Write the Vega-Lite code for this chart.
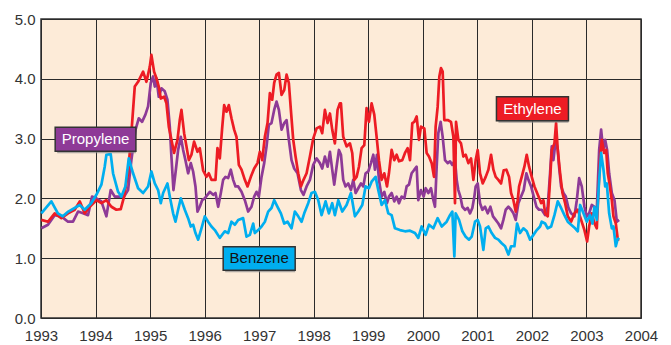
{
  "$schema": "https://vega.github.io/schema/vega-lite/v6.json",
  "width": 600,
  "height": 299,
  "autosize": "none",
  "padding": {"left": 41, "top": 19, "right": 30, "bottom": 27},
  "background": "#ffffff",
  "config": {
    "view": {"fill": "#FDEBD8", "stroke": "#333333", "strokeWidth": 1.5},
    "font": "Liberation Sans",
    "axis": {"domain": false, "ticks": false, "grid": true, "gridColor": "#2a2a2a", "gridWidth": 1, "gridOpacity": 1, "labelFont": "Liberation Sans", "labelFontSize": 15, "labelColor": "#333333", "labelFlush": false, "labelOverlap": false, "title": null}
  },
  "datasets": {
    "benzene": [
      {"t":1993.006,"v":1.75},{"t":1993.19,"v":1.95},{"t":1993.31,"v":1.75},{"t":1993.40,"v":1.70},{"t":1993.50,"v":1.78},{"t":1993.71,"v":1.89},{"t":1993.80,"v":1.81},{"t":1993.92,"v":1.92},{"t":1994.015,"v":2.06},{"t":1994.107,"v":2.23},{"t":1994.168,"v":2.53},{"t":1994.199,"v":2.73},{"t":1994.278,"v":2.74},{"t":1994.321,"v":2.42},{"t":1994.413,"v":2.11},{"t":1994.474,"v":2.03},{"t":1994.547,"v":2.20},{"t":1994.609,"v":2.67},{"t":1994.688,"v":2.42},{"t":1994.780,"v":2.17},{"t":1994.872,"v":2.09},
      {"t":1994.963,"v":2.20},{"t":1995.024,"v":2.45},{"t":1995.086,"v":2.25},{"t":1995.147,"v":2.14},{"t":1995.196,"v":1.92},{"t":1995.239,"v":2.09},{"t":1995.318,"v":2.25},{"t":1995.361,"v":2.03},{"t":1995.422,"v":1.75},{"t":1995.465,"v":1.61},{"t":1995.514,"v":1.81},{"t":1995.563,"v":2.00},{"t":1995.636,"v":1.81},{"t":1995.697,"v":1.67},{"t":1995.746,"v":1.53},{"t":1995.789,"v":1.56},{"t":1995.832,"v":1.42},{"t":1995.881,"v":1.31},{"t":1995.942,"v":1.50},{"t":1996.003,"v":1.70},{"t":1996.064,"v":1.61},{"t":1996.125,"v":1.53},{"t":1996.187,"v":1.47},{"t":1996.278,"v":1.34},{"t":1996.370,"v":1.45},{"t":1996.431,"v":1.42},{"t":1996.492,"v":1.61},{"t":1996.554,"v":1.56},{"t":1996.615,"v":1.64},
      {"t":1996.706,"v":1.67},{"t":1996.768,"v":1.36},{"t":1996.829,"v":1.39},{"t":1996.890,"v":1.58},{"t":1996.920,"v":1.42},{"t":1996.982,"v":1.47},{"t":1997.043,"v":1.53},{"t":1997.104,"v":1.61},{"t":1997.165,"v":1.78},{"t":1997.226,"v":1.84},{"t":1997.275,"v":1.97},{"t":1997.336,"v":1.86},{"t":1997.398,"v":1.75},{"t":1997.459,"v":1.58},{"t":1997.520,"v":1.61},{"t":1997.593,"v":1.50},{"t":1997.654,"v":1.78},{"t":1997.716,"v":1.70},{"t":1997.777,"v":1.61},{"t":1997.826,"v":1.75},{"t":1997.899,"v":1.92},{"t":1997.960,"v":2.09},{"t":1998.021,"v":2.11},{"t":1998.083,"v":1.97},{"t":1998.144,"v":1.72},{"t":1998.217,"v":1.95},{"t":1998.278,"v":1.75},{"t":1998.339,"v":1.92},{"t":1998.388,"v":1.72},{"t":1998.450,"v":1.97},{"t":1998.523,"v":1.78},
      {"t":1998.602,"v":1.89},{"t":1998.682,"v":2.09},{"t":1998.755,"v":1.70},{"t":1998.817,"v":1.78},{"t":1998.890,"v":1.89},{"t":1998.951,"v":2.20},{"t":1999.012,"v":2.17},{"t":1999.061,"v":2.28},{"t":1999.134,"v":2.36},{"t":1999.183,"v":2.14},{"t":1999.245,"v":1.89},{"t":1999.306,"v":1.97},{"t":1999.367,"v":1.75},{"t":1999.428,"v":1.72},{"t":1999.489,"v":1.50},{"t":1999.581,"v":1.47},{"t":1999.673,"v":1.45},{"t":1999.765,"v":1.46},{"t":1999.856,"v":1.42},{"t":1999.917,"v":1.34},{"t":1999.979,"v":1.53},{"t":2000.052,"v":1.39},{"t":2000.113,"v":1.56},{"t":2000.193,"v":1.50},{"t":2000.272,"v":1.67},
      {"t":2000.346,"v":1.53},{"t":2000.437,"v":1.61},{"t":2000.498,"v":1.72},{"t":2000.541,"v":1.78},{"t":2000.578,"v":1.03},{"t":2000.602,"v":1.75},{"t":2000.664,"v":1.64},{"t":2000.725,"v":1.45},{"t":2000.786,"v":1.36},{"t":2000.847,"v":1.31},{"t":2000.896,"v":1.36},{"t":2000.957,"v":1.61},{"t":2001.006,"v":1.64},{"t":2001.049,"v":1.53},{"t":2001.110,"v":1.14},{"t":2001.153,"v":1.50},{"t":2001.202,"v":1.53},{"t":2001.263,"v":1.42},{"t":2001.324,"v":1.34},{"t":2001.385,"v":1.31},{"t":2001.446,"v":1.25},{"t":2001.508,"v":1.20},{"t":2001.569,"v":1.06},{"t":2001.618,"v":1.20},{"t":2001.679,"v":1.20},{"t":2001.728,"v":1.58},{"t":2001.783,"v":1.42},{"t":2001.844,"v":1.50},{"t":2001.905,"v":1.45},{"t":2001.966,"v":1.31},{"t":2002.028,"v":1.39},{"t":2002.089,"v":1.47},{"t":2002.150,"v":1.53},
      {"t":2002.180,"v":1.61},{"t":2002.242,"v":1.58},{"t":2002.290,"v":1.50},{"t":2002.352,"v":1.53},{"t":2002.413,"v":1.72},{"t":2002.474,"v":1.95},{"t":2002.535,"v":1.84},{"t":2002.596,"v":1.72},{"t":2002.657,"v":1.61},{"t":2002.719,"v":1.56},{"t":2002.792,"v":1.50},{"t":2002.841,"v":1.45},{"t":2002.884,"v":1.89},{"t":2002.945,"v":1.75},{"t":2003.006,"v":1.61},{"t":2003.067,"v":1.72},{"t":2003.110,"v":1.58},{"t":2003.147,"v":1.86},{"t":2003.190,"v":1.64},{"t":2003.233,"v":2.31},{"t":2003.269,"v":2.76},{"t":2003.312,"v":2.48},{"t":2003.343,"v":2.20},{"t":2003.373,"v":2.25},{"t":2003.416,"v":1.75},{"t":2003.465,"v":1.50},{"t":2003.495,"v":1.53},{"t":2003.538,"v":1.20},{"t":2003.569,"v":1.31},{"t":2003.599,"v":1.34}
    ],
    "ethylene": [
      {"t":1993.006,"v":1.64},{"t":1993.128,"v":1.61},{"t":1993.251,"v":1.75},{"t":1993.373,"v":1.67},{"t":1993.495,"v":1.75},{"t":1993.618,"v":1.81},{"t":1993.710,"v":1.95},{"t":1993.801,"v":1.75},{"t":1993.893,"v":1.86},{"t":1994.015,"v":1.97},{"t":1994.107,"v":1.92},{"t":1994.199,"v":1.97},{"t":1994.291,"v":1.86},{"t":1994.382,"v":1.81},{"t":1994.462,"v":1.82},{"t":1994.523,"v":2.03},{"t":1994.596,"v":2.42},{"t":1994.657,"v":3.09},{"t":1994.719,"v":3.87},{"t":1994.780,"v":3.95},
      {"t":1994.872,"v":4.12},{"t":1994.933,"v":3.95},{"t":1994.994,"v":4.20},{"t":1995.024,"v":4.40},{"t":1995.073,"v":4.12},{"t":1995.116,"v":4.01},{"t":1995.159,"v":3.87},{"t":1995.196,"v":3.67},{"t":1995.257,"v":3.70},{"t":1995.300,"v":3.59},{"t":1995.343,"v":3.20},{"t":1995.391,"v":2.98},{"t":1995.440,"v":2.76},{"t":1995.502,"v":2.98},{"t":1995.544,"v":3.31},{"t":1995.575,"v":3.48},{"t":1995.624,"v":3.09},{"t":1995.667,"v":2.87},{"t":1995.710,"v":2.64},{"t":1995.758,"v":2.73},{"t":1995.807,"v":2.95},{"t":1995.869,"v":2.78},{"t":1995.911,"v":2.84},{"t":1995.972,"v":2.47},{"t":1996.034,"v":2.36},{"t":1996.076,"v":2.42},{"t":1996.125,"v":2.31},{"t":1996.199,"v":2.31},{"t":1996.235,"v":2.84},{"t":1996.278,"v":2.67},{"t":1996.321,"v":3.17},{"t":1996.358,"v":3.56},{"t":1996.401,"v":3.45},{"t":1996.443,"v":3.56},{"t":1996.492,"v":3.34},{"t":1996.541,"v":3.15},{"t":1996.584,"v":3.03},{"t":1996.627,"v":2.56},{"t":1996.676,"v":2.48},
      {"t":1996.737,"v":2.31},{"t":1996.786,"v":2.20},{"t":1996.847,"v":2.36},{"t":1996.908,"v":2.50},{"t":1996.969,"v":2.59},{"t":1997.012,"v":2.78},{"t":1997.055,"v":2.64},{"t":1997.104,"v":3.03},{"t":1997.153,"v":3.26},{"t":1997.196,"v":3.76},{"t":1997.239,"v":3.65},{"t":1997.275,"v":3.93},{"t":1997.318,"v":4.07},{"t":1997.361,"v":4.10},{"t":1997.410,"v":3.73},{"t":1997.459,"v":3.81},{"t":1997.502,"v":4.07},{"t":1997.544,"v":3.93},{"t":1997.581,"v":3.48},{"t":1997.624,"v":2.98},{"t":1997.667,"v":2.70},{"t":1997.716,"v":2.42},{"t":1997.765,"v":2.20},{"t":1997.813,"v":2.31},{"t":1997.869,"v":2.42},{"t":1997.930,"v":2.70},{"t":1997.991,"v":3.00},{"t":1998.052,"v":3.17},{"t":1998.113,"v":3.20},{"t":1998.156,"v":3.09},{"t":1998.205,"v":3.48},{"t":1998.254,"v":3.26},{"t":1998.297,"v":3.42},{"t":1998.339,"v":3.15},{"t":1998.388,"v":2.92},{"t":1998.437,"v":3.48},{"t":1998.480,"v":3.59},
      {"t":1998.499,"v":3.59},{"t":1998.541,"v":3.03},{"t":1998.602,"v":2.87},{"t":1998.664,"v":2.92},{"t":1998.706,"v":2.76},{"t":1998.743,"v":2.31},{"t":1998.786,"v":2.36},{"t":1998.829,"v":2.53},{"t":1998.878,"v":2.84},{"t":1998.927,"v":2.89},{"t":1998.969,"v":3.51},{"t":1999.012,"v":3.28},{"t":1999.061,"v":3.59},{"t":1999.110,"v":3.40},{"t":1999.153,"v":3.03},{"t":1999.196,"v":2.64},{"t":1999.245,"v":2.31},{"t":1999.294,"v":2.42},{"t":1999.343,"v":2.20},{"t":1999.379,"v":2.42},{"t":1999.428,"v":2.81},{"t":1999.477,"v":2.64},{"t":1999.520,"v":2.73},{"t":1999.563,"v":2.62},{"t":1999.624,"v":2.64},{"t":1999.673,"v":2.76},{"t":1999.722,"v":2.84},{"t":1999.765,"v":2.64},{"t":1999.807,"v":3.26},{"t":1999.844,"v":3.28},{"t":1999.887,"v":3.37},{"t":1999.930,"v":2.98},{"t":1999.966,"v":3.20},{"t":2000.028,"v":3.17},{"t":2000.070,"v":2.76},{"t":2000.113,"v":2.70},{"t":2000.162,"v":2.59},{"t":2000.205,"v":2.36},{"t":2000.235,"v":3.20},{"t":2000.272,"v":3.53},{"t":2000.303,"v":4.04},{"t":2000.333,"v":4.18},{"t":2000.364,"v":4.12},
      {"t":2000.394,"v":3.31},{"t":2000.456,"v":3.31},{"t":2000.517,"v":3.28},{"t":2000.560,"v":3.03},{"t":2000.590,"v":1.92},{"t":2000.609,"v":3.28},{"t":2000.651,"v":2.98},{"t":2000.700,"v":2.92},{"t":2000.743,"v":2.70},{"t":2000.786,"v":2.73},{"t":2000.835,"v":2.59},{"t":2000.884,"v":2.67},{"t":2000.927,"v":2.31},{"t":2000.969,"v":2.64},{"t":2001.006,"v":2.81},{"t":2001.049,"v":2.42},{"t":2001.098,"v":2.25},{"t":2001.153,"v":2.36},{"t":2001.202,"v":2.48},{"t":2001.251,"v":2.73},{"t":2001.294,"v":2.48},{"t":2001.336,"v":2.36},{"t":2001.385,"v":2.31},{"t":2001.434,"v":2.25},{"t":2001.483,"v":2.47},{"t":2001.532,"v":2.48},{"t":2001.581,"v":2.36},{"t":2001.618,"v":2.09},{"t":2001.661,"v":1.97},{"t":2001.703,"v":1.78},{"t":2001.740,"v":1.97},{"t":2001.765,"v":2.20},{"t":2001.813,"v":2.36},{"t":2001.862,"v":2.53},{"t":2001.905,"v":2.73},{"t":2001.948,"v":2.53},{"t":2001.997,"v":2.36},{"t":2002.046,"v":2.20},{"t":2002.095,"v":2.09},{"t":2002.150,"v":1.97},
      {"t":2002.168,"v":1.92},{"t":2002.211,"v":1.97},{"t":2002.242,"v":1.75},{"t":2002.290,"v":1.70},{"t":2002.333,"v":2.31},{"t":2002.364,"v":2.81},{"t":2002.413,"v":2.92},{"t":2002.443,"v":3.26},{"t":2002.474,"v":2.81},{"t":2002.517,"v":2.42},{"t":2002.560,"v":2.09},{"t":2002.609,"v":1.92},{"t":2002.657,"v":1.70},{"t":2002.719,"v":1.61},{"t":2002.780,"v":1.75},{"t":2002.841,"v":1.81},{"t":2002.902,"v":1.64},{"t":2002.963,"v":1.47},{"t":2003.012,"v":1.28},{"t":2003.049,"v":1.53},{"t":2003.098,"v":1.75},{"t":2003.147,"v":1.58},{"t":2003.190,"v":1.50},{"t":2003.220,"v":2.14},{"t":2003.251,"v":2.70},{"t":2003.281,"v":2.98},{"t":2003.324,"v":2.76},{"t":2003.361,"v":2.81},{"t":2003.391,"v":2.42},{"t":2003.422,"v":2.25},{"t":2003.465,"v":1.97},{"t":2003.495,"v":1.70},{"t":2003.538,"v":1.58},{"t":2003.575,"v":1.31},{"t":2003.599,"v":1.32}
    ],
    "propylene": [
      {"t":1993.006,"v":1.50},{"t":1993.128,"v":1.56},{"t":1993.251,"v":1.72},{"t":1993.373,"v":1.70},{"t":1993.495,"v":1.61},{"t":1993.587,"v":1.61},{"t":1993.679,"v":1.78},{"t":1993.771,"v":1.75},{"t":1993.862,"v":1.72},{"t":1993.936,"v":2.03},{"t":1994.015,"v":2.00},{"t":1994.107,"v":1.95},{"t":1994.199,"v":1.70},{"t":1994.278,"v":2.14},{"t":1994.352,"v":2.03},{"t":1994.443,"v":2.03},{"t":1994.523,"v":2.03},{"t":1994.596,"v":2.14},{"t":1994.657,"v":2.64},{"t":1994.731,"v":3.14},{"t":1994.792,"v":3.34},
      {"t":1994.853,"v":3.28},{"t":1994.914,"v":3.40},{"t":1994.963,"v":3.54},{"t":1995.012,"v":3.93},{"t":1995.055,"v":4.04},{"t":1995.086,"v":3.87},{"t":1995.116,"v":4.01},{"t":1995.159,"v":3.70},{"t":1995.208,"v":3.84},{"t":1995.269,"v":3.79},{"t":1995.318,"v":3.65},{"t":1995.361,"v":3.20},{"t":1995.391,"v":2.70},{"t":1995.428,"v":2.14},{"t":1995.465,"v":2.42},{"t":1995.514,"v":2.81},{"t":1995.563,"v":3.03},{"t":1995.606,"v":2.81},{"t":1995.648,"v":2.64},{"t":1995.697,"v":2.42},{"t":1995.746,"v":2.59},{"t":1995.789,"v":2.45},{"t":1995.832,"v":2.20},{"t":1995.869,"v":1.78},{"t":1995.911,"v":1.86},{"t":1995.954,"v":1.97},{"t":1996.003,"v":2.00},{"t":1996.052,"v":2.06},{"t":1996.095,"v":2.11},{"t":1996.156,"v":2.06},{"t":1996.199,"v":2.09},{"t":1996.248,"v":1.86},{"t":1996.297,"v":2.09},{"t":1996.339,"v":2.31},{"t":1996.382,"v":2.36},{"t":1996.431,"v":2.34},{"t":1996.480,"v":2.48},{"t":1996.523,"v":2.31},{"t":1996.566,"v":2.20},{"t":1996.615,"v":2.20},
      {"t":1996.676,"v":2.11},{"t":1996.737,"v":1.97},{"t":1996.798,"v":1.78},{"t":1996.859,"v":1.86},{"t":1996.908,"v":2.03},{"t":1996.951,"v":2.11},{"t":1996.994,"v":2.03},{"t":1997.043,"v":2.36},{"t":1997.092,"v":2.59},{"t":1997.135,"v":2.87},{"t":1997.177,"v":3.23},{"t":1997.226,"v":3.26},{"t":1997.275,"v":3.48},{"t":1997.318,"v":3.62},{"t":1997.361,"v":3.48},{"t":1997.410,"v":3.15},{"t":1997.459,"v":3.26},{"t":1997.502,"v":3.31},{"t":1997.544,"v":2.98},{"t":1997.593,"v":2.64},{"t":1997.642,"v":2.50},{"t":1997.703,"v":2.42},{"t":1997.765,"v":2.14},{"t":1997.813,"v":2.06},{"t":1997.869,"v":2.20},{"t":1997.930,"v":2.31},{"t":1997.991,"v":2.56},{"t":1998.052,"v":2.67},{"t":1998.113,"v":2.59},{"t":1998.156,"v":2.50},{"t":1998.205,"v":2.70},{"t":1998.254,"v":2.53},{"t":1998.297,"v":2.78},{"t":1998.339,"v":2.48},{"t":1998.376,"v":2.23},{"t":1998.419,"v":2.53},{"t":1998.462,"v":2.81},
      {"t":1998.499,"v":2.73},{"t":1998.541,"v":2.31},{"t":1998.584,"v":2.20},{"t":1998.633,"v":2.25},{"t":1998.682,"v":2.14},{"t":1998.725,"v":2.31},{"t":1998.768,"v":2.09},{"t":1998.817,"v":2.17},{"t":1998.866,"v":2.25},{"t":1998.908,"v":2.20},{"t":1998.951,"v":2.42},{"t":1999.000,"v":2.45},{"t":1999.049,"v":2.59},{"t":1999.092,"v":2.73},{"t":1999.122,"v":2.48},{"t":1999.159,"v":2.73},{"t":1999.196,"v":2.31},{"t":1999.245,"v":2.03},{"t":1999.294,"v":2.11},{"t":1999.343,"v":1.92},{"t":1999.379,"v":2.03},{"t":1999.428,"v":2.09},{"t":1999.477,"v":1.95},{"t":1999.520,"v":2.03},{"t":1999.563,"v":1.92},{"t":1999.612,"v":2.03},{"t":1999.661,"v":2.00},{"t":1999.703,"v":2.20},{"t":1999.746,"v":2.23},{"t":1999.795,"v":2.42},{"t":1999.844,"v":2.48},{"t":1999.887,"v":2.53},{"t":1999.917,"v":1.97},{"t":1999.966,"v":2.14},{"t":2000.015,"v":2.03},{"t":2000.052,"v":2.17},{"t":2000.101,"v":2.09},{"t":2000.150,"v":2.17},{"t":2000.193,"v":1.97},{"t":2000.223,"v":1.86},{"t":2000.254,"v":2.53},{"t":2000.284,"v":3.09},{"t":2000.327,"v":3.28},{"t":2000.364,"v":3.03},
      {"t":2000.407,"v":2.64},{"t":2000.456,"v":2.59},{"t":2000.498,"v":2.62},{"t":2000.541,"v":2.56},{"t":2000.590,"v":2.64},{"t":2000.621,"v":2.31},{"t":2000.651,"v":2.14},{"t":2000.688,"v":2.03},{"t":2000.725,"v":1.86},{"t":2000.774,"v":1.81},{"t":2000.823,"v":1.84},{"t":2000.865,"v":1.75},{"t":2000.908,"v":1.84},{"t":2000.945,"v":2.03},{"t":2000.969,"v":2.20},{"t":2001.006,"v":2.25},{"t":2001.049,"v":1.92},{"t":2001.092,"v":1.81},{"t":2001.141,"v":1.86},{"t":2001.190,"v":1.75},{"t":2001.239,"v":1.86},{"t":2001.287,"v":1.70},{"t":2001.336,"v":1.64},{"t":2001.385,"v":1.58},{"t":2001.434,"v":1.50},{"t":2001.477,"v":1.64},{"t":2001.520,"v":1.81},{"t":2001.569,"v":1.86},{"t":2001.618,"v":1.81},{"t":2001.661,"v":1.75},{"t":2001.703,"v":1.64},{"t":2001.752,"v":1.92},{"t":2001.801,"v":2.03},{"t":2001.850,"v":2.14},{"t":2001.899,"v":2.42},{"t":2001.936,"v":2.31},{"t":2001.985,"v":2.20},{"t":2002.034,"v":2.03},{"t":2002.083,"v":1.86},{"t":2002.131,"v":1.81},
      {"t":2002.180,"v":1.81},{"t":2002.242,"v":1.72},{"t":2002.290,"v":1.86},{"t":2002.333,"v":2.42},{"t":2002.364,"v":2.87},{"t":2002.394,"v":2.64},{"t":2002.437,"v":2.98},{"t":2002.474,"v":2.81},{"t":2002.498,"v":2.53},{"t":2002.535,"v":2.20},{"t":2002.578,"v":2.09},{"t":2002.621,"v":2.03},{"t":2002.670,"v":1.84},{"t":2002.719,"v":1.75},{"t":2002.780,"v":1.70},{"t":2002.823,"v":1.97},{"t":2002.866,"v":2.34},{"t":2002.914,"v":2.20},{"t":2002.963,"v":1.86},{"t":2003.006,"v":1.70},{"t":2003.049,"v":1.75},{"t":2003.098,"v":1.89},{"t":2003.147,"v":1.86},{"t":2003.190,"v":1.81},{"t":2003.233,"v":2.81},{"t":2003.269,"v":3.15},{"t":2003.306,"v":2.81},{"t":2003.343,"v":2.98},{"t":2003.379,"v":2.81},{"t":2003.416,"v":2.42},{"t":2003.465,"v":2.09},{"t":2003.514,"v":1.97},{"t":2003.557,"v":1.61},{"t":2003.599,"v":1.64}
    ],
    "labels": [
      {"name":"Propylene","x1":1993.26,"x2":1994.74,"y1":2.79,"y2":3.19,"xm":1994.0,"ym":2.99,"fill":"#8E3A97","tc":"#ffffff"},
      {"name":"Benzene","x1":1996.34,"x2":1997.66,"y1":0.80,"y2":1.19,"xm":1997.0,"ym":0.995,"fill":"#00AEEF","tc":"#111111"},
      {"name":"Ethylene","x1":2001.35,"x2":2002.67,"y1":3.30,"y2":3.70,"xm":2002.01,"ym":3.50,"fill":"#ED1C24","tc":"#ffffff"}
    ]
  },
  "layer": [
    {
      "data": {"name": "propylene"},
      "mark": {"type": "line", "color": "#8E3A97", "strokeWidth": 2.7, "strokeJoin": "round"},
      "encoding": {
        "x": {"field": "t", "type": "quantitative", "scale": {"domain": [1993, 2004], "nice": false, "zero": false}, "axis": {"values": [1993,1994,1995,1996,1997,1998,1999,2000,2001,2002,2003,2004], "format": "d", "labelPadding": 10}},
        "y": {"field": "v", "type": "quantitative", "scale": {"domain": [0, 5], "nice": false}, "axis": {"values": [0,0.5,1,1.5,2,2.5,3,3.5,4,4.5,5], "format": ".1f", "labelPadding": 6}}
      }
    },
    {
      "data": {"name": "ethylene"},
      "mark": {"type": "line", "color": "#ED1C24", "strokeWidth": 2.7, "strokeJoin": "round"},
      "encoding": {
        "x": {"field": "t", "type": "quantitative"},
        "y": {"field": "v", "type": "quantitative"}
      }
    },
    {
      "data": {"name": "benzene"},
      "mark": {"type": "line", "color": "#00AEEF", "strokeWidth": 2.7, "strokeJoin": "round"},
      "encoding": {
        "x": {"field": "t", "type": "quantitative"},
        "y": {"field": "v", "type": "quantitative"}
      }
    },
    {
      "data": {"name": "labels"},
      "mark": {"type": "rect", "fill": "#8a8a8a", "opacity": 0.7, "xOffset": 2, "yOffset": 2},
      "encoding": {
        "x": {"field": "x1", "type": "quantitative"},
        "x2": {"field": "x2"},
        "y": {"field": "y1", "type": "quantitative"},
        "y2": {"field": "y2"}
      }
    },
    {
      "data": {"name": "labels"},
      "mark": {"type": "rect", "stroke": "#333333", "strokeWidth": 1.5},
      "encoding": {
        "x": {"field": "x1", "type": "quantitative"},
        "x2": {"field": "x2"},
        "y": {"field": "y1", "type": "quantitative"},
        "y2": {"field": "y2"},
        "fill": {"field": "fill", "type": "nominal", "scale": null}
      }
    },
    {
      "data": {"name": "labels"},
      "mark": {"type": "text", "fontSize": 15, "font": "Liberation Sans", "align": "center", "baseline": "middle"},
      "encoding": {
        "x": {"field": "xm", "type": "quantitative"},
        "y": {"field": "ym", "type": "quantitative"},
        "text": {"field": "name"},
        "color": {"field": "tc", "type": "nominal", "scale": null}
      }
    }
  ]
}
